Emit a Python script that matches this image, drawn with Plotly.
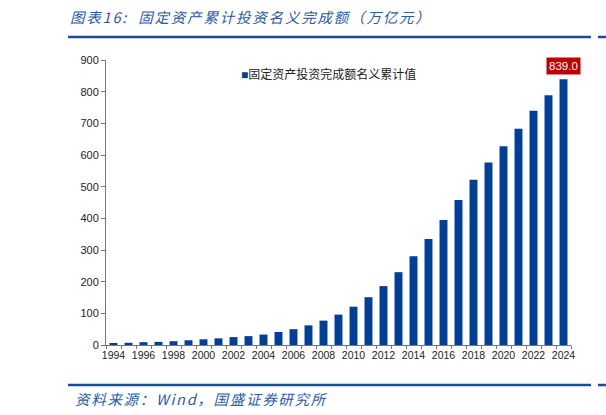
import plotly.graph_objects as go

years = list(range(1994, 2025))
values = [5, 7, 9, 10, 12, 15, 18, 21, 25, 28, 33, 41, 50, 62, 77, 96,
          121, 151, 186, 230, 280, 335, 395, 458, 522, 576, 628, 683, 740, 789, 839.0]
series_name = "固定资产投资完成额名义累计值"
tick_years = list(range(1994, 2025, 2))
title_text = "图表16:  固定资产累计投资名义完成额（万亿元）"
source_text = "资料来源：Wind，国盛证券研究所"

BLUE = "#003F98"
LINE_BLUE = "#1A4C9E"
FONT = "Liberation Sans, Noto Sans CJK SC, sans-serif"

fig = go.Figure()
fig.add_trace(go.Bar(x=years, y=values, name=series_name, marker_color=BLUE,
                     marker_line_width=0, width=0.53, showlegend=False))

fig.update_layout(
    width=606, height=415,
    margin=dict(l=106, r=35, t=60, b=70),
    plot_bgcolor="white", paper_bgcolor="white",
    font=dict(family=FONT, size=11, color="#333333"),
    showlegend=False,
    xaxis=dict(range=[1993.5, 2024.5], tickvals=tick_years,
               ticktext=[str(y) for y in tick_years], ticks="",
               showline=True, linecolor="#777777", linewidth=1,
               showgrid=False, zeroline=False,
               tickfont=dict(size=10.5, color="#222222"),
               minor=dict(ticks="outside", tick0=1993.5, dtick=1, ticklen=3,
                          tickcolor="#777777", showgrid=False)),
    yaxis=dict(range=[0, 900], dtick=100, ticks="outside", ticklen=4,
               tickcolor="#777777", showline=True, linecolor="#777777",
               linewidth=1, showgrid=False, zeroline=False,
               tickfont=dict(size=11, color="#222222")),
)

# legend (square marker + series name)
fig.add_annotation(xref="paper", yref="paper", x=(239 - 106) / 465, y=(345 - 74) / 285,
                   xanchor="left", yanchor="middle", showarrow=False,
                   text="<span style='color:%s;font-size:12px'>■</span>%s" % (BLUE, series_name),
                   font=dict(size=12, color="#222222"))

fig.add_annotation(x=2024, y=values[-1], text="839.0", showarrow=False,
                   yanchor="bottom", yshift=4, bgcolor="#C00000",
                   font=dict(color="white", size=11.5), borderpad=2)

fig.add_annotation(xref="paper", yref="paper", x=(68 - 106) / 465, y=(345 - 17) / 285,
                   xanchor="left", yanchor="middle", showarrow=False,
                   text="<i><span style='letter-spacing:1.8px'>" + title_text + "</span></i>",
                   font=dict(size=14.5, color="#2A5BA8", family="Noto Sans CJK SC"))
fig.add_annotation(xref="paper", yref="paper", x=(73 - 106) / 465, y=(345 - 398) / 285,
                   xanchor="left", yanchor="middle", showarrow=False,
                   text="<i><span style='letter-spacing:1.7px'>" + source_text + "</span></i>",
                   font=dict(size=14.5, color="#2A5BA8", family="Noto Sans CJK SC"))

for yy in ((345 - 37) / 285, (345 - 385) / 285):
    fig.add_shape(type="line", xref="paper", yref="paper", x0=(68 - 106) / 465,
                  x1=(591 - 106) / 465, y0=yy, y1=yy, line=dict(color=LINE_BLUE, width=2.5))
    fig.add_shape(type="line", xref="paper", yref="paper", x0=(598 - 106) / 465,
                  x1=(610 - 106) / 465, y0=yy, y1=yy, line=dict(color=LINE_BLUE, width=2.5))

fig.write_html("out.html", config={"displayModeBar": False},
               post_script="document.body.style.margin='0';")
